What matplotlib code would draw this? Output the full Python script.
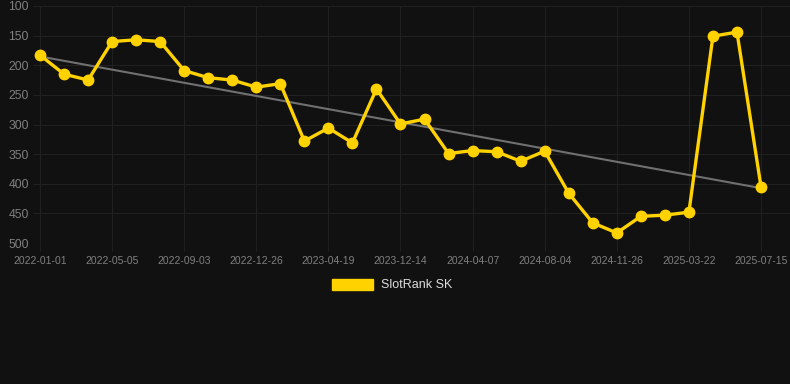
import numpy as np
import matplotlib.pyplot as plt

# Rango SlotRank SK (asse y invertito, 31 rilevazioni)
ranks = [183, 215, 225, 160, 157, 160, 209, 221, 225, 237, 231,
         328, 306, 331, 240, 299, 291, 349, 344, 346, 362, 345,
         416, 466, 483, 455, 453, 448, 151, 144, 405]
tick_labels = ['2022-01-01', '2022-05-05', '2022-09-03', '2022-12-26',
               '2023-04-19', '2023-12-14', '2024-04-07', '2024-08-04',
               '2024-11-26', '2025-03-22', '2025-07-15']
y_ticks = [100, 150, 200, 250, 300, 350, 400, 450, 500]

bg = '#111111'
yellow = '#FFD200'
plt.rcParams['font.family'] = ['Liberation Sans', 'DejaVu Sans']

x = np.arange(len(ranks))

fig = plt.figure(figsize=(7.9, 3.84), dpi=100, facecolor=bg)
ax = fig.add_axes([33 / 790, 1 - 243 / 384, 757 / 790, 237 / 384])
ax.set_facecolor(bg)

# Linea di tendenza (regressione lineare)
slope, intercept = np.polyfit(x, ranks, 1)
ax.plot(x, slope * x + intercept, color='#707070', linewidth=1.5, zorder=2)

ax.plot(x, ranks, color=yellow, linewidth=2.4, marker='o', markersize=7.5,
        zorder=3, label='SlotRank SK')

ax.set_ylim(500, 100)
ax.set_yticks(y_ticks)
ax.set_xlim(-7 / 24.03, 30 + 29 / 24.03)
ax.set_xticks(x[::3])
ax.set_xticklabels(tick_labels)

ax.grid(True, color='#202020', linewidth=0.8)
for s in ax.spines.values():
    s.set_visible(False)
ax.tick_params(axis='y', length=0, pad=3, labelsize=8.7, colors='#808080')
ax.tick_params(axis='x', length=6, width=0.8, color='#202020', pad=3,
               labelsize=7.5, labelcolor='#808080')

leg = fig.legend(handles=[plt.Rectangle((0, 0), 1, 1, color=yellow)],
                 labels=['SlotRank SK'], loc='center', bbox_to_anchor=(392 / 790, 1 - 285 / 384),
                 frameon=False, fontsize=9, handlelength=3.3, handleheight=1.0,
                 handletextpad=0.6)
for t in leg.get_texts():
    t.set_color('#dddddd')

fig.savefig('out.png', dpi=100, facecolor=bg)
